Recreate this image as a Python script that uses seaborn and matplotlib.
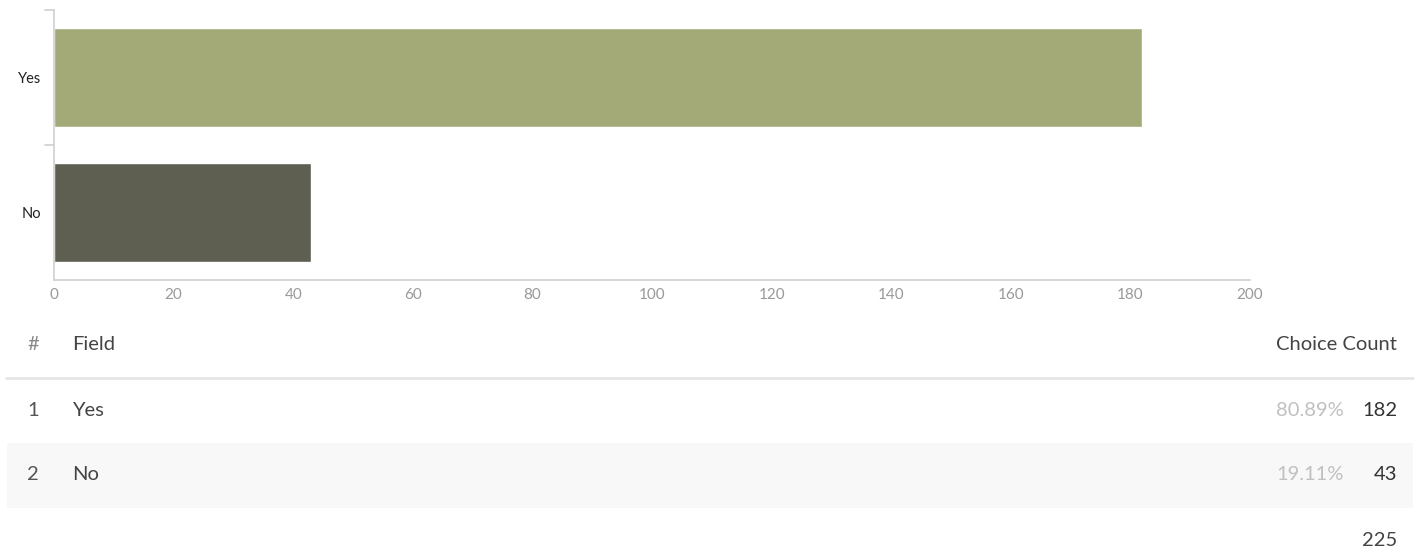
import matplotlib
matplotlib.use("Agg")
import matplotlib.pyplot as plt
import seaborn as sns
import pandas as pd
from matplotlib.patches import Rectangle
from matplotlib.lines import Line2D

categories = ["Yes", "No"]
counts = [182, 43]
percents = ["80.89%", "19.11%"]
total = 225
bar_colors = ["#a3aa78", "#5e5f51"]
x_ticks = [0, 20, 40, 60, 80, 100, 120, 140, 160, 180, 200]

sns.set_theme(style="white")
plt.rcParams['font.family'] = ['Lato', 'DejaVu Sans']

W, H = 1418, 550
fig = plt.figure(figsize=(W / 100, H / 100), dpi=100)
ax = fig.add_axes([54 / W, 1 - 280 / H, (1250 - 54) / W, 270 / H])

df = pd.DataFrame({"cat": categories, "count": counts})
sns.barplot(data=df, y="cat", x="count", hue="cat", palette=bar_colors,
            orient="h", width=0.726, legend=False, ax=ax, saturation=1)

ax.set_xlim(0, 200)
ax.set_ylim(1.5, -0.5)
ax.set_xlabel("")
ax.set_ylabel("")
for s in ["top", "right"]:
    ax.spines[s].set_visible(False)
for s in ["left", "bottom"]:
    ax.spines[s].set_color("#d0d0d0")
    ax.spines[s].set_linewidth(1.2)
ax.set_xticks(x_ticks)
ax.set_xticklabels([str(t) for t in x_ticks], fontsize=11, color="#999999")
ax.tick_params(axis="x", direction="in", length=6, color="#d0d0d0", width=1.2, pad=6)
ax.set_yticks([0, 1])
ax.set_yticklabels(categories, fontsize=10.5, color="#222222")
ax.tick_params(axis="y", length=0, pad=9)
# band separators on y axis
for yb in [-0.5, 0.5]:
    ax.plot([-0.0075 * 200, 0], [yb, yb], color="#d0d0d0", lw=1.2, clip_on=False)

def fy(py):
    return 1 - py / H

def fx(px):
    return px / W

FS = 14.5
fig.text(fx(27), fy(344), "#", ha="left", fontsize=FS, color="#888888", va="center")
fig.text(fx(72), fy(344), "Field", ha="left", fontsize=FS, color="#444444", va="center")
fig.text(fx(1397), fy(344), "Choice Count", ha="right", fontsize=FS, color="#444444", va="center")
fig.add_artist(Line2D([fx(6), fx(1413)], [fy(378), fy(378)], color="#e5e5e5", lw=2))

# row 2 background
fig.add_artist(Rectangle((fx(7), fy(508)), fx(1413) - fx(7), (508 - 443) / H,
                         facecolor="#f8f8f8", edgecolor="none", zorder=0))

row_y = [411, 475]
for i, (c, n, p) in enumerate(zip(categories, counts, percents)):
    y = fy(row_y[i])
    fig.text(fx(27), y, str(i + 1), ha="left", fontsize=FS, color="#555555", va="center")
    fig.text(fx(72), y, c, ha="left", fontsize=FS, color="#444444", va="center")
    fig.text(fx(1344), y, p, ha="right", fontsize=FS, color="#c0c0c0", va="center")
    fig.text(fx(1397), y, str(n), ha="right", fontsize=FS, color="#333333", va="center")

fig.text(fx(1397), fy(540), str(total), ha="right", fontsize=FS, color="#444444", va="center")

fig.savefig("out.png", dpi=100, facecolor="white")
